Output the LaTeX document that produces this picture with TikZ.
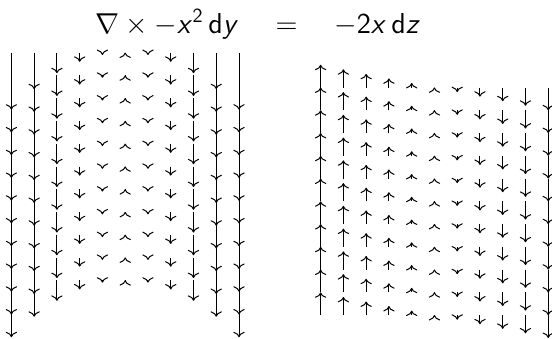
\documentclass[tikz,border=0pt]{standalone}
\usetikzlibrary{arrows.meta}
\DeclareMathAlphabet{\mathsfsl}{OT1}{cmss}{m}{sl}
\tikzset{
  >={To},
  vec/.style={->,line width=0.5pt},
  eqn/.style={font=\Large,anchor=base},
}
\begin{document}
\begin{tikzpicture}
  \useasboundingbox (0,0) rectangle (9.7,-5.94);
  \node[eqn] (title) at (4.534,-0.58)
    {$\nabla\times-\mathsfsl{x}^{\mathsf{2}}\,\mathsf{d}\mathsfsl{y}\quad=\quad-\mathsf{2}\mathsfsl{x}\,\mathsf{d}\mathsfsl{z}$};
  % left field: -x^2 dy
  \foreach \i in {-5,...,5}
    \foreach \j in {0,...,10}
      \draw[vec] (2.2+0.4*\i,-0.926-0.4*\j) -- ++(0,{0.002*(\i==0)-0.04*\i*\i});
  % right field: -2x dz
  \foreach \i in {-5,...,5}
    \foreach \j in {0,...,10}
      \draw[vec] (7.634+0.4*\i,-1.538-0.4*\j) -- ++(0,{0.002*(\i==0)-0.08*\i});
\end{tikzpicture}
\end{document}
